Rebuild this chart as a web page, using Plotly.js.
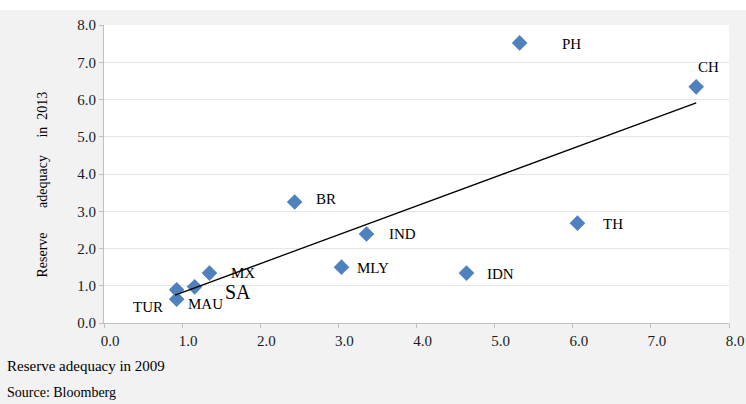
<!DOCTYPE html>
<html>
<head>
<meta charset="utf-8">
<script src="https://cdn.plot.ly/plotly-3.0.1.min.js"></script>
<style>
  html, body { margin: 0; padding: 0; background: #ffffff; }
  #chart { width: 746px; height: 404px; }
</style>
</head>
<body>
<div id="chart"></div>
<script>
// ---- data ----
const countries = ["PH", "CH", "BR", "IND", "TH", "MLY", "IDN", "MX", "SA", "MAU", "TUR"];
const reserve2009 = [5.32, 7.58, 2.44, 3.36, 6.06, 3.04, 4.64, 1.35, 1.16, 0.93, 0.93];
const reserve2013 = [7.52, 6.34, 3.25, 2.39, 2.68, 1.50, 1.34, 1.34, 0.97, 0.89, 0.64];
const trendX = [0.91, 7.58];
const trendY = [0.75, 5.91];
const tickVals = [0, 1, 2, 3, 4, 5, 6, 7, 8];

// ---- label styling (pixel offsets from each point) ----
const labelDx = [52, 12, 31, 36, 36, 31, 34, 34, 43, 29, -29];
const labelDy = [-1, 20, 3, 0, -1, -1, -1, 0, -5, -14, -8];
const labelSize = [15, 15, 15, 15, 15, 15, 15, 15, 20, 15, 15];

const serif = "'Liberation Serif', 'Times New Roman', serif";

const annotations = countries.map((c, i) => ({
  x: reserve2009[i], y: reserve2013[i], xref: "x", yref: "y",
  text: c, showarrow: false, xshift: labelDx[i], yshift: labelDy[i],
  xanchor: "center", yanchor: "middle",
  font: { family: serif, size: labelSize[i], color: "#000000" }
}));

annotations.push({
  xref: "paper", yref: "paper", x: -0.099, y: 0.465,
  text: "Reserve&nbsp;&nbsp;&nbsp;&nbsp;&nbsp;&nbsp;&nbsp;adequacy&nbsp;&nbsp;&nbsp;&nbsp;&nbsp;in&nbsp;&nbsp;2013",
  textangle: -90, showarrow: false, xanchor: "center", yanchor: "middle",
  font: { family: serif, size: 14, color: "#000000" }
});
annotations.push({
  xref: "paper", yref: "paper", x: -0.158, y: -0.144,
  text: "Reserve adequacy in 2009", showarrow: false,
  xanchor: "left", yanchor: "middle",
  font: { family: serif, size: 15, color: "#000000" }
});
annotations.push({
  xref: "paper", yref: "paper", x: -0.158, y: -0.232,
  text: "Source: Bloomberg", showarrow: false,
  xanchor: "left", yanchor: "middle",
  font: { family: serif, size: 14, color: "#000000" }
});

const traces = [
  {
    x: reserve2009, y: reserve2013, type: "scatter", mode: "markers",
    marker: { symbol: "diamond", size: 12, color: "#4f81bd" },
    hoverinfo: "skip", showlegend: false, cliponaxis: false
  },
  {
    x: trendX, y: trendY, type: "scatter", mode: "lines",
    line: { color: "#000000", width: 1.3 },
    hoverinfo: "skip", showlegend: false
  }
];

const layout = {
  width: 746, height: 404,
  margin: { l: 104, r: 17, t: 25, b: 81 },
  paper_bgcolor: "#f2f2f2",
  plot_bgcolor: "#ffffff",
  showlegend: false,
  font: { family: serif, color: "#000000" },
  xaxis: {
    range: [0, 8], tickvals: tickVals, tickformat: ".1f",
    showgrid: false, zeroline: false,
    showline: true, linecolor: "#bfbfbf", linewidth: 1,
    ticks: "outside", ticklen: 4, tickcolor: "#bfbfbf",
    ticklabelshift: 6, ticklabeloverflow: "allow",
    tickfont: { family: serif, size: 15, color: "#1a1a1a" },
    fixedrange: true
  },
  yaxis: {
    range: [0, 8], tickvals: tickVals, tickformat: ".1f",
    showgrid: true, gridcolor: "#e6e6e6", gridwidth: 1, zeroline: false,
    showline: true, linecolor: "#bfbfbf", linewidth: 1,
    ticks: "outside", ticklen: 4, tickcolor: "#bfbfbf",
    ticklabelstandoff: 0,
    tickfont: { family: serif, size: 15, color: "#1a1a1a" },
    fixedrange: true
  },
  shapes: [
    {
      type: "rect", xref: "paper", yref: "paper",
      x0: -0.2, x1: 1.1, y0: 1.0503, y1: 1.12,
      fillcolor: "#ffffff", line: { width: 0 }, layer: "above"
    }
  ],
  annotations: annotations
};

Plotly.newPlot("chart", traces, layout, { displayModeBar: false, staticPlot: true });
</script>
</body>
</html>
